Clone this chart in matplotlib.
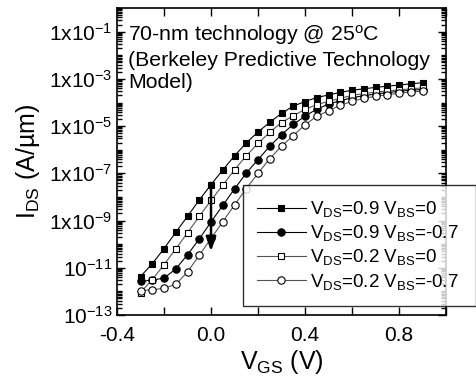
import numpy as np
import matplotlib
matplotlib.use("Agg")
import matplotlib.pyplot as plt
from matplotlib.ticker import FixedLocator, MultipleLocator, LogLocator, NullFormatter

plt.rcParams['font.family'] = ['Liberation Sans', 'DejaVu Sans']
plt.rcParams['mathtext.default'] = 'regular'

# gate voltage (V)
vgs = [-0.30, -0.25, -0.20, -0.15, -0.10, -0.05, 0.00, 0.05, 0.10, 0.15, 0.20, 0.25, 0.30,
       0.35, 0.40, 0.45, 0.50, 0.55, 0.60, 0.65, 0.70, 0.75, 0.80, 0.85, 0.90]

# log10 of I_DS (A/um)
log_vds09_vbs0 = [-11.37, -10.83, -10.19, -9.50, -8.82, -8.13, -7.48, -6.86, -6.26, -5.71, -5.25,
                  -4.84, -4.46, -4.15, -3.96, -3.79, -3.68, -3.57, -3.48, -3.42, -3.36, -3.31,
                  -3.26, -3.21, -3.16]
log_vds09_vbs07 = [-11.58, -11.52, -11.44, -11.05, -10.45, -9.78, -9.06, -8.36, -7.66, -6.99, -6.42,
                   -5.85, -5.36, -4.93, -4.58, -4.28, -4.07, -3.92, -3.80, -3.71, -3.64, -3.58,
                   -3.53, -3.48, -3.45]
log_vds02_vbs0 = [-12.05, -11.50, -10.87, -10.20, -9.52, -8.82, -8.15, -7.50, -6.85, -6.26, -5.73,
                  -5.26, -4.85, -4.56, -4.29, -4.09, -3.95, -3.82, -3.70, -3.62, -3.56, -3.51,
                  -3.47, -3.42, -3.38]
log_vds02_vbs07 = [-11.97, -11.93, -11.87, -11.70, -11.18, -10.47, -9.76, -9.05, -8.34, -7.65, -7.00,
                   -6.38, -5.85, -5.40, -4.95, -4.58, -4.35, -4.12, -3.95, -3.82, -3.74, -3.67,
                   -3.61, -3.56, -3.52]

labels = [r'V$_{DS}$=0.9 V$_{BS}$=0', r'V$_{DS}$=0.9 V$_{BS}$=-0.7',
          r'V$_{DS}$=0.2 V$_{BS}$=0', r'V$_{DS}$=0.2 V$_{BS}$=-0.7']

y_ticks = [1e-13, 1e-11, 1e-9, 1e-7, 1e-5, 1e-3, 1e-1]
y_ticklabels = [r'10$^{-13}$', r'10$^{-11}$', r'1x10$^{-9}$', r'1x10$^{-7}$',
                r'1x10$^{-5}$', r'1x10$^{-3}$', r'1x10$^{-1}$']
x_ticks = [-0.4, 0.0, 0.4, 0.8]
x_ticklabels = ['-0.4', '0.0', '0.4', '0.8']

# arrow at VGS = 0 (from, to)
arrow_x = 0.0
arrow_y = [10 ** -7.4, 10 ** -10.3]

fig = plt.figure(figsize=(4.76, 3.84), dpi=100)
ax = fig.add_axes([0.2458, 0.1797, 0.937 - 0.2458, 0.979 - 0.1797])

x = np.array(vgs)
ax.plot(x, 10 ** np.array(log_vds09_vbs0), '-s', color='black', lw=0.8, ms=4.8,
        mfc='black', mec='black', mew=0.8, label=labels[0])
ax.plot(x, 10 ** np.array(log_vds09_vbs07), '-o', color='black', lw=0.8, ms=5.3,
        mfc='black', mec='black', mew=0.8, label=labels[1])
ax.plot(x, 10 ** np.array(log_vds02_vbs0), '-s', color='#555555', lw=0.8, ms=4.8,
        mfc='white', mec='black', mew=0.8, label=labels[2])
ax.plot(x, 10 ** np.array(log_vds02_vbs07), '-o', color='#555555', lw=0.8, ms=5.3,
        mfc='white', mec='black', mew=0.8, label=labels[3])

ax.annotate('', xy=(arrow_x, arrow_y[1]), xytext=(arrow_x, arrow_y[0]),
            arrowprops=dict(arrowstyle='-|>,head_width=0.25,head_length=0.7',
                            color='black', lw=1.8, mutation_scale=12, shrinkA=0, shrinkB=0))

ax.set_yscale('log')
ax.set_xlim(-0.4, 1.0)
ax.set_ylim(1e-13, 1e0)

ax.yaxis.set_major_locator(FixedLocator(y_ticks))
ax.set_yticklabels(y_ticklabels)
ax.yaxis.set_minor_locator(LogLocator(base=10, subs=np.arange(1, 10), numticks=30))
ax.yaxis.set_minor_formatter(NullFormatter())
ax.set_xticks(x_ticks)
ax.set_xticklabels(x_ticklabels)
ax.xaxis.set_minor_locator(MultipleLocator(0.2))

ax.tick_params(which='both', direction='in', top=True, right=True, labelsize=15, width=1)
ax.tick_params(which='major', length=6)
ax.tick_params(which='major', axis='x', pad=8)
ax.tick_params(which='major', axis='y', pad=3)
ax.tick_params(which='minor', axis='x', length=6)
ax.tick_params(which='minor', axis='y', length=3.5)
for s in ax.spines.values():
    s.set_linewidth(1.2)

ax.set_xlabel(r'V$_{GS}$ (V)', fontsize=18, labelpad=2)
ax.set_ylabel(r'I$_{DS}$ (A/µm)', fontsize=18, labelpad=5)

ax.text(0.033, 0.95, '70-nm technology @ 25$^{o}$C\n(Berkeley Predictive Technology\nModel)',
        transform=ax.transAxes, ha='left', va='top', fontsize=15.3, linespacing=1.22)

leg = ax.legend(loc='upper left', bbox_to_anchor=(0.5105, 0.195, 0.4895, 0.323),
                bbox_transform=fig.transFigure, mode='expand',
                fontsize=13.5, frameon=True, fancybox=False, edgecolor='black',
                handlelength=2.6, handletextpad=0.2, borderpad=0.75, labelspacing=0.22,
                borderaxespad=0)
leg.get_frame().set_linewidth(1.0)

fig.savefig('out.png', dpi=100)
